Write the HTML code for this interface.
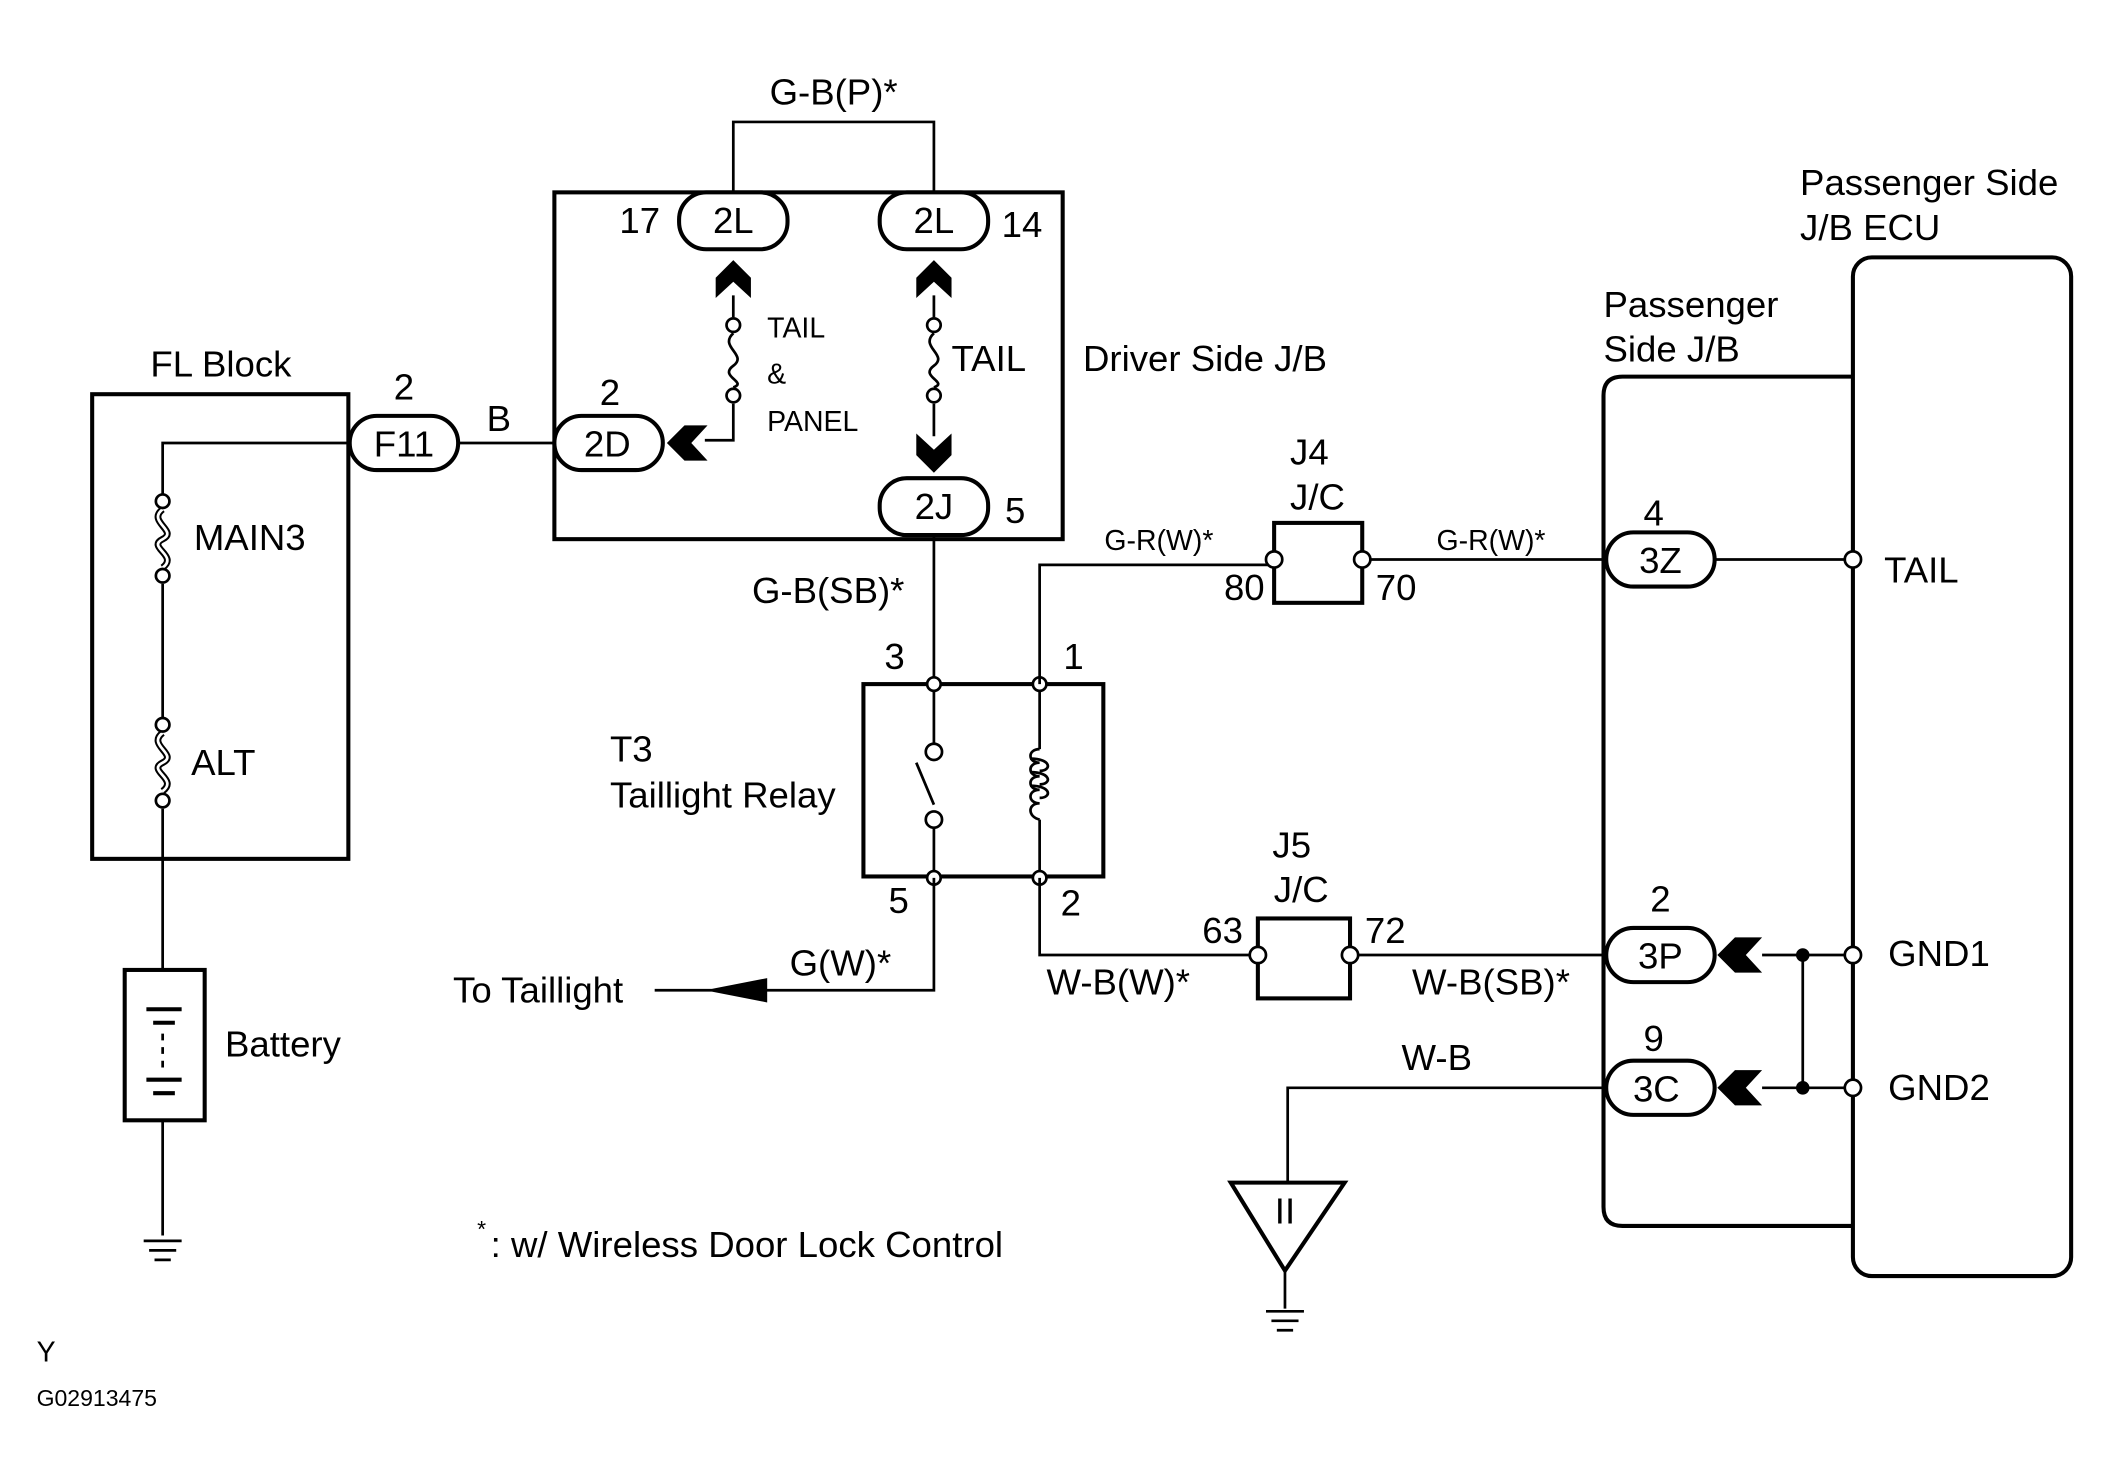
<!DOCTYPE html>
<html><head><meta charset="utf-8"><style>
html,body{margin:0;padding:0;background:#fff;}
svg{display:block}
text{font-family:"Liberation Sans",sans-serif;fill:#000}
</style></head><body>
<svg width="2124" height="1482" viewBox="0 0 1567 1094" preserveAspectRatio="none" xmlns="http://www.w3.org/2000/svg">
<g fill="none" stroke="#000" stroke-width="2">
<rect x="68" y="291" width="189" height="343" stroke-width="3"/>
<path d="M258 327 H120 V365"/>
<path d="M120 431 V530"/>
<path d="M120 597 V716"/>
<path d="M120 827 V912"/>
<path d="M120 376 C108 385,132 392,120 398 C108 404,132 410,120 419" stroke-width="5"/>
<path d="M120 376 C108 385,132 392,120 398 C108 404,132 410,120 419" stroke="#fff" stroke-width="2"/>
<path d="M120 541 C108 550,132 557,120 563 C108 569,132 575,120 584" stroke-width="5"/>
<path d="M120 541 C108 550,132 557,120 563 C108 569,132 575,120 584" stroke="#fff" stroke-width="2"/>
<circle cx="120" cy="370" r="5" fill="#fff"/><circle cx="120" cy="425" r="5" fill="#fff"/>
<circle cx="120" cy="535" r="5" fill="#fff"/><circle cx="120" cy="591" r="5" fill="#fff"/>
<rect x="92" y="716" width="59" height="111" stroke-width="3"/>
<path d="M108 745 H134 M113 755 H129 M108 797 H134 M113 807 H129" stroke-width="3"/>
<path d="M120 763 V790" stroke-dasharray="5,5"/>
<path d="M106 916 H134 M110 923 H130 M114 930 H126"/>
<path d="M338 327 H409"/>
<rect x="409" y="142" width="375" height="256" stroke-width="3"/>
<path d="M541 142 V90 H689 V142"/>
<path d="M541 218 V234 M541 298 V325 H520"/>
<path d="M689 218 V234 M689 298 V322"/>
<path d="M541 246 C530 256,552 262,541 270 C530 278,552 282,541 286"/>
<path d="M689 246 C678 256,700 262,689 270 C678 278,700 282,689 286"/>
<circle cx="541" cy="240" r="5" fill="#fff"/><circle cx="541" cy="292" r="5" fill="#fff"/>
<circle cx="689" cy="240" r="5" fill="#fff"/><circle cx="689" cy="292" r="5" fill="#fff"/>
<path d="M689 393 V505"/>
<rect x="637" y="505" width="177" height="142" stroke-width="3"/>
<path d="M689 505 V549 M689 611 V648 M676 563 L689 594"/>
<circle cx="689" cy="555" r="6" fill="#fff"/><circle cx="689" cy="605" r="6" fill="#fff"/>
<path d="M767 505 V553 M767 605 V648"/>
<path d="M767 553 C758 553,758 563,767 563 C758 563,758 573,767 573 C758 573,758 583,767 583 C758 583,758 593,767 593 C758 593,758 603,767 605"/>
<path d="M760 560 C776 560,776 569,767 569 M760 570 C776 570,776 579,767 579 M760 580 C776 580,776 589,767 589"/>
<circle cx="689" cy="505" r="5" fill="#fff"/><circle cx="767" cy="505" r="5" fill="#fff"/>
<circle cx="689" cy="648" r="5" fill="#fff"/><circle cx="767" cy="648" r="5" fill="#fff"/>
<path d="M689 648 V731 H560 M525 731 H483"/>
<path d="M767 505 V417 H940 M1005 413 H1185 M1265 413 H1367"/>
<path d="M940 413 V417"/>
<rect x="940" y="386" width="65" height="59" stroke-width="3"/>
<circle cx="940" cy="413" r="6" fill="#fff"/><circle cx="1005" cy="413" r="6" fill="#fff"/>
<path d="M767 648 V705 H928 M996 705 H1185 M1300 705 H1367 M1300 803 H1367 M1330 705 V803"/>
<rect x="928" y="678" width="68" height="59" stroke-width="3"/>
<circle cx="928" cy="705" r="6" fill="#fff"/><circle cx="996" cy="705" r="6" fill="#fff"/>
<path d="M1185 803 H950 V873"/>
<path d="M908 873 H992 L948 938 Z" stroke-width="3"/>
<path d="M948 938 V966 M934 968 H962 M938 975 H958 M942 982 H954"/>
<path d="M1367 278 H1197 Q1183 278 1183 292 V891 Q1183 905 1197 905 H1367" stroke-width="3"/>
<rect x="1367" y="190" width="161" height="752" rx="14" stroke-width="3"/>
<circle cx="1367" cy="413" r="6" fill="#fff"/><circle cx="1367" cy="705" r="6" fill="#fff"/><circle cx="1367" cy="803" r="6" fill="#fff"/>
<rect x="258" y="307" width="80" height="40" rx="20" fill="#fff" stroke-width="3"/>
<rect x="409" y="307" width="80" height="40" rx="20" fill="#fff" stroke-width="3"/>
<rect x="501" y="142" width="80" height="42" rx="20" fill="#fff" stroke-width="3"/>
<rect x="649" y="142" width="80" height="42" rx="20" fill="#fff" stroke-width="3"/>
<rect x="649" y="353" width="80" height="42" rx="20" fill="#fff" stroke-width="3"/>
<rect x="1185" y="393" width="80" height="40" rx="20" fill="#fff" stroke-width="3"/>
<rect x="1185" y="685" width="80" height="40" rx="20" fill="#fff" stroke-width="3"/>
<rect x="1185" y="783" width="80" height="40" rx="20" fill="#fff" stroke-width="3"/>
</g>
<g fill="#000">
<polygon points="528,220 528,205 541,192 554,205 554,220 541,208"/>
<polygon points="676,220 676,205 689,192 702,205 702,220 689,208"/>
<polygon points="676,320 689,332 702,320 702,336 689,349 676,336"/>
<polygon points="492,327 505,314 522,314 510,327 522,340 505,340"/>
<polygon points="1267,705 1280,692 1300,692 1288,705 1300,718 1280,718"/>
<polygon points="1267,803 1280,790 1300,790 1288,803 1300,816 1280,816"/>
<polygon points="520,731 566,722 566,740"/>
<circle cx="1330" cy="705" r="5"/><circle cx="1330" cy="803" r="5"/>
</g>
<g font-size="27">
<text x="615" y="77" text-anchor="middle">G-B(P)*</text>
<text x="472" y="172" text-anchor="middle">17</text>
<text x="541" y="172" text-anchor="middle">2L</text>
<text x="689" y="172" text-anchor="middle">2L</text>
<text x="754" y="175" text-anchor="middle">14</text>
<text x="702" y="274">TAIL</text>
<text x="799" y="274">Driver Side J/B</text>
<text x="450" y="299" text-anchor="middle">2</text>
<text x="448" y="337" text-anchor="middle">2D</text>
<text x="689" y="383" text-anchor="middle">2J</text>
<text x="749" y="386" text-anchor="middle">5</text>
<text x="298" y="295" text-anchor="middle">2</text>
<text x="298" y="337" text-anchor="middle">F11</text>
<text x="368" y="318" text-anchor="middle">B</text>
<text x="163" y="278" text-anchor="middle">FL Block</text>
<text x="143" y="406">MAIN3</text>
<text x="141" y="572">ALT</text>
<text x="166" y="780">Battery</text>
<text x="611" y="445" text-anchor="middle">G-B(SB)*</text>
<text x="660" y="494" text-anchor="middle">3</text>
<text x="792" y="494" text-anchor="middle">1</text>
<text x="450" y="562">T3</text>
<text x="450" y="596">Taillight Relay</text>
<text x="663" y="674" text-anchor="middle">5</text>
<text x="790" y="676" text-anchor="middle">2</text>
<text x="620" y="720" text-anchor="middle">G(W)*</text>
<text x="397" y="740" text-anchor="middle">To Taillight</text>
<text x="966" y="343" text-anchor="middle">J4</text>
<text x="972" y="376" text-anchor="middle">J/C</text>
<text x="918" y="443" text-anchor="middle">80</text>
<text x="1030" y="443" text-anchor="middle">70</text>
<text x="953" y="633" text-anchor="middle">J5</text>
<text x="960" y="666" text-anchor="middle">J/C</text>
<text x="902" y="696" text-anchor="middle">63</text>
<text x="1022" y="696" text-anchor="middle">72</text>
<text x="825" y="734" text-anchor="middle">W-B(W)*</text>
<text x="1100" y="734" text-anchor="middle">W-B(SB)*</text>
<text x="1060" y="790" text-anchor="middle">W-B</text>
<text x="1220" y="388" text-anchor="middle">4</text>
<text x="1225" y="423" text-anchor="middle">3Z</text>
<text x="1225" y="673" text-anchor="middle">2</text>
<text x="1225" y="715" text-anchor="middle">3P</text>
<text x="1220" y="776" text-anchor="middle">9</text>
<text x="1222" y="813" text-anchor="middle">3C</text>
<text x="1390" y="430">TAIL</text>
<text x="1393" y="713">GND1</text>
<text x="1393" y="812">GND2</text>
<text x="1183" y="234">Passenger</text>
<text x="1183" y="267">Side J/B</text>
<text x="1328" y="144">Passenger Side</text>
<text x="1328" y="177">J/B ECU</text>
<text x="948" y="903" text-anchor="middle">II</text>
<text x="362" y="928">: w/ Wireless Door Lock Control</text>
</g>
<g font-size="21">
<text x="566" y="249">TAIL</text>
<text x="566" y="283">&amp;</text>
<text x="566" y="318">PANEL</text>
<text x="855" y="406" text-anchor="middle">G-R(W)*</text>
<text x="1100" y="406" text-anchor="middle">G-R(W)*</text>
<text x="352" y="913" font-size="17">*</text>
<text x="27" y="1005">Y</text>
<text x="27" y="1038" font-size="17">G02913475</text>
</g>
</svg>
</body></html>
